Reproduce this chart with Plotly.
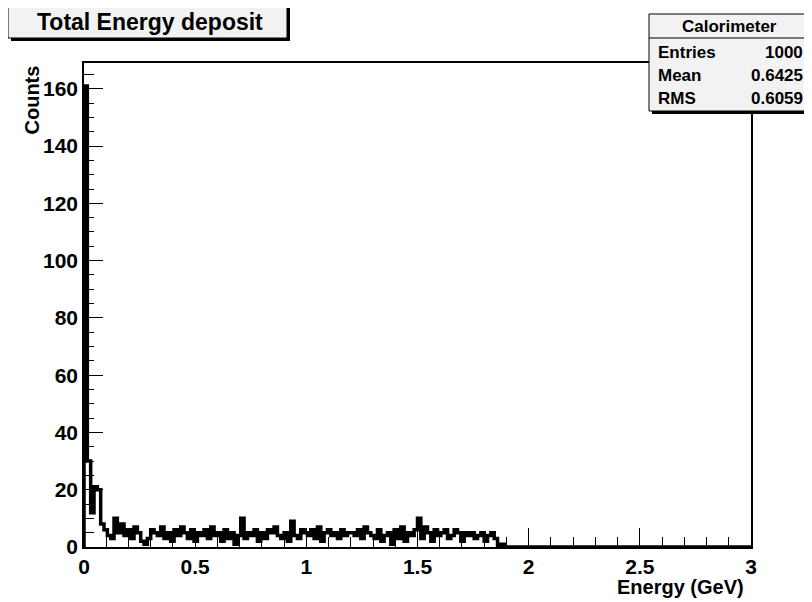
"""
plot.py - ROOT style histogram of the total energy deposit in the calorimeter
"""
import plotly.graph_objects as go

# histogram binning: 200 bins from 0 to 3 GeV
N_BINS = 200
X_MIN = 0.0
X_MAX = 3.0

# bin contents (bins past 1.9 GeV are empty)
COUNTS = [161, 30, 12, 21, 20, 8, 6, 4, 3, 10, 5, 8, 4, 6, 3, 7, 5, 2, 1, 3,
          6, 5, 4, 7, 3, 5, 2, 6, 4, 7, 5, 3, 6, 2, 5, 4, 6, 3, 7, 4,
          5, 2, 6, 3, 5, 1, 4, 10, 3, 5, 4, 6, 2, 5, 3, 6, 5, 7, 4, 3,
          5, 2, 9, 4, 3, 6, 5, 4, 6, 3, 7, 2, 5, 6, 4, 5, 3, 6, 4, 5,
          5, 4, 6, 3, 7, 5, 4, 3, 6, 2, 4, 5, 1, 6, 3, 7, 2, 5, 4, 6,
          10, 3, 7, 5, 2, 6, 4, 5, 6, 3, 4, 6, 5, 2, 5, 4, 5, 3, 4, 5,
          2, 4, 5, 3, 0, 1]
COUNTS = COUNTS + [0] * (N_BINS - len(COUNTS))

TITLE = 'Total Energy deposit'
X_TITLE = 'Energy (GeV)'
Y_TITLE = 'Counts'

STATS_NAME = 'Calorimeter'
STATS_LABELS = ['Entries', 'Mean', 'RMS']
STATS_VALUES = ['1000', '0.6425', '0.6059']

X_TICKS = [0, 0.5, 1, 1.5, 2, 2.5, 3]
X_TICK_TEXT = ['0', '0.5', '1', '1.5', '2', '2.5', '3']
Y_TICKS = [0, 20, 40, 60, 80, 100, 120, 140, 160]

# window size and frame position (pixels of the screenshot)
WIN_W, WIN_H = 812, 602
L, R, T, B = 84, 751, 63, 547
# the page body has an 8px margin, so the figure starts at (8, 8)
OFF = 8
W, H = WIN_W - OFF, WIN_H - OFF

FONT = 'Liberation Sans'


def px_x(x):
    """screenshot pixel x -> paper x"""
    return (x - L) / (R - L)


def px_y(y):
    """screenshot pixel y -> paper y"""
    return (B - y) / (B - T)


def bold(size):
    return dict(family=FONT, size=size, color='black', weight='bold')


def shadow_box(fig, x0, y0, x1, y1, fill, off=3):
    """box with a dark drop shadow, like a ROOT pave"""
    fig.add_shape(type='rect', xref='paper', yref='paper',
                  x0=px_x(x0 + off), x1=px_x(x1 + off), y0=px_y(y1 + off), y1=px_y(y0 + off),
                  fillcolor='black', line=dict(width=0), layer='above')
    fig.add_shape(type='rect', xref='paper', yref='paper',
                  x0=px_x(x0), x1=px_x(x1), y0=px_y(y1), y1=px_y(y0),
                  fillcolor=fill, line=dict(color='black', width=1), layer='above')


bin_w = (X_MAX - X_MIN) / N_BINS
edges = [X_MIN + i * bin_w for i in range(N_BINS + 1)]

fig = go.Figure()

# outline histogram drawn as a step line
fig.add_trace(go.Scatter(x=[X_MIN] + edges, y=[0] + COUNTS + [COUNTS[-1]],
                         mode='lines', line_shape='hv',
                         line=dict(color='black', width=3.5),
                         hoverinfo='skip', showlegend=False))

fig.update_xaxes(range=[X_MIN, X_MAX], tickvals=X_TICKS, ticktext=X_TICK_TEXT,
                 ticks='inside', ticklen=19, tickwidth=1, tickcolor='black',
                 minor=dict(dtick=0.1, ticks='inside', ticklen=10, tickcolor='black', showgrid=False),
                 showline=True, mirror=True, linecolor='black', linewidth=1.5,
                 showgrid=False, zeroline=False, tickfont=bold(21))
fig.update_yaxes(range=[0, 169], tickvals=Y_TICKS,
                 ticks='inside', ticklen=19, tickwidth=1, tickcolor='black',
                 minor=dict(dtick=5, ticks='inside', ticklen=10, tickcolor='black', showgrid=False),
                 showline=True, mirror=True, linecolor='black', linewidth=1.5,
                 showgrid=False, zeroline=False, tickfont=bold(21))

# axis titles, ROOT puts them at the far end of the axis
fig.add_annotation(text=X_TITLE, xref='paper', yref='paper', x=px_x(746), y=px_y(587),
                   xanchor='right', yanchor='middle', showarrow=False, font=bold(20))
fig.add_annotation(text=Y_TITLE, xref='paper', yref='paper', x=px_x(31), y=px_y(64),
                   xanchor='center', yanchor='top', textangle=-90, showarrow=False,
                   font=bold(20))

# title pave
shadow_box(fig, 8, 5, 287, 38, '#f2f2f2')
fig.add_annotation(text=TITLE, xref='paper', yref='paper', x=px_x(150), y=px_y(22),
                   xanchor='center', yanchor='middle', showarrow=False, font=bold(23))

# stats box
shadow_box(fig, 649, 14, 809, 111, '#f2f2f2')
fig.add_shape(type='line', xref='paper', yref='paper',
              x0=px_x(649), x1=px_x(809), y0=px_y(38), y1=px_y(38),
              line=dict(color='black', width=1), layer='above')
fig.add_annotation(text=STATS_NAME, xref='paper', yref='paper', x=px_x(729), y=px_y(26),
                   xanchor='center', yanchor='middle', showarrow=False, font=bold(17))
for i, (lab, val) in enumerate(zip(STATS_LABELS, STATS_VALUES)):
    yy = px_y(52 + i * 23)
    fig.add_annotation(text=lab, xref='paper', yref='paper', x=px_x(656), y=yy,
                       xanchor='left', yanchor='middle', showarrow=False, font=bold(17))
    fig.add_annotation(text=val, xref='paper', yref='paper', x=px_x(805), y=yy,
                       xanchor='right', yanchor='middle', showarrow=False, font=bold(17))

fig.update_layout(width=W, height=H,
                  margin=dict(l=L - OFF, r=WIN_W - R, t=T - OFF, b=WIN_H - B),
                  paper_bgcolor='white', plot_bgcolor='white',
                  showlegend=False)

fig.write_html("out.html")
